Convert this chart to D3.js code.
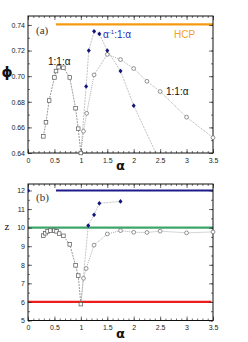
<!DOCTYPE html>
<html><head><meta charset="utf-8">
<script src="https://cdn.jsdelivr.net/npm/d3@7"></script>
<style>
body{margin:0;background:#fff;}
svg{display:block;}
.tick text{font-family:"Liberation Sans",Arial,sans-serif;font-size:7px;fill:#222;}
</style></head>
<body>
<svg id="c" width="248" height="342"></svg>
<script>
// ---- data ----
const xTicks = [0, 0.5, 1, 1.5, 2, 2.5, 3, 3.5];
const phiTicks = [0.64, 0.66, 0.68, 0.70, 0.72, 0.74];
const zTicks = [5, 6, 7, 8, 9, 10, 11, 12];

// panel (a): packing fraction phi
const aSqX = [0.29, 0.34, 0.40, 0.50, 0.53, 0.58, 0.67, 0.79, 0.90, 0.95, 1.00];
const aSqY = [0.653, 0.664, 0.681, 0.699, 0.704, 0.707, 0.7066, 0.699, 0.675, 0.659, 0.640];
const aCiX = [1.00, 1.05, 1.11, 1.25, 1.50, 1.75, 2.00, 2.25, 2.50, 3.00, 3.50];
const aCiY = [0.640, 0.657, 0.671, 0.701, 0.717, 0.713, 0.706, 0.696, 0.688, 0.668, 0.652];
const aDiX = [1.00, 1.10, 1.15, 1.25, 1.35, 1.50, 1.75, 2.00, 2.50];
const aDiY = [0.640, 0.692, 0.720, 0.735, 0.733, 0.720, 0.704, 0.677, 0.633];
const hcpPhi = 0.7405;
const hcpRange = [0.53, 3.5];

// panel (b): coordination number z
const bSqX = [0.29, 0.33, 0.37, 0.42, 0.50, 0.54, 0.59, 0.67, 0.79, 0.90, 0.95, 1.00];
const bSqY = [9.57, 9.70, 9.80, 9.84, 9.84, 9.80, 9.68, 9.56, 9.10, 7.97, 7.42, 5.88];
const bCiX = [1.00, 1.05, 1.10, 1.25, 1.50, 1.75, 2.00, 2.25, 2.50, 3.00, 3.50];
const bCiY = [5.88, 7.27, 7.80, 9.06, 9.66, 9.84, 9.75, 9.74, 9.81, 9.72, 9.77];
const bDiX = [1.00, 1.14, 1.25, 1.35, 1.75];
const bDiY = [5.88, 10.11, 10.69, 11.31, 11.41];
const bDiExtraX = [0];
const bDiExtraY = [12];
const refZ = [12, 10, 6];
const refRange = [[0.53, 3.5], [0, 3.5], [0, 3.47]];
const refColor = ["#1e1a8c", "#3da56a", "#ee1c1c"];

// ---- drawing ----
const svg = d3.select("#c");
const L = 28, R = 213;
const x = d3.scaleLinear().domain([0, 3.5]).range([L, R]);

function frame(g, y, top, bottom, yMajor, yMinorStep, yFmt, yDom) {
  const xMinor = d3.range(0, 3.5001, 0.1).map(v => +v.toFixed(2));
  const yMinor = d3.range(yDom[0], yDom[1] + 1e-9, yMinorStep).map(v => +v.toFixed(4));
  g.append("g").attr("transform", `translate(0,${bottom})`)
    .call(d3.axisBottom(x).tickValues(xMinor).tickSize(-2).tickFormat(""));
  g.append("g").attr("transform", `translate(0,${top})`)
    .call(d3.axisTop(x).tickValues(xMinor).tickSize(-2).tickFormat(""));
  g.append("g").attr("transform", `translate(${L},0)`)
    .call(d3.axisLeft(y).tickValues(yMinor).tickSize(-2).tickFormat(""));
  g.append("g").attr("transform", `translate(${R},0)`)
    .call(d3.axisRight(y).tickValues(yMinor).tickSize(-2).tickFormat(""));
  g.append("g").attr("transform", `translate(0,${bottom})`)
    .call(d3.axisBottom(x).tickValues(xTicks).tickSize(-4).tickPadding(5).tickFormat(d => String(d)));
  g.append("g").attr("transform", `translate(0,${top})`)
    .call(d3.axisTop(x).tickValues(xTicks).tickSize(-4).tickFormat(""));
  g.append("g").attr("transform", `translate(${L},0)`)
    .call(d3.axisLeft(y).tickValues(yMajor).tickSize(-4).tickPadding(3).tickFormat(yFmt));
  g.append("g").attr("transform", `translate(${R},0)`)
    .call(d3.axisRight(y).tickValues(yMajor).tickSize(-4).tickFormat(""));
  g.selectAll(".domain").remove();
  g.selectAll(".tick line").attr("stroke", "#333").attr("stroke-width", 0.7);
  g.append("rect").attr("x", L).attr("y", top).attr("width", R - L).attr("height", bottom - top)
    .attr("fill", "none").attr("stroke", "#111").attr("stroke-width", 1);
}

function series(g, xs, ys, y, clip, lineStyle) {
  const pts = xs.map((v, i) => [x(v), y(ys[i])]);
  g.append("path").attr("d", d3.line()(pts)).attr("clip-path", `url(#${clip})`)
    .attr("fill", "none").attr("stroke", lineStyle.color).attr("stroke-width", 0.6)
    .attr("stroke-dasharray", lineStyle.dash);
  return pts;
}
function squares(g, pts) {
  g.selectAll(null).data(pts).enter().append("rect")
    .attr("x", d => d[0] - 1.8).attr("y", d => d[1] - 1.8).attr("width", 3.6).attr("height", 3.6)
    .attr("fill", "#fff").attr("stroke", "#555").attr("stroke-width", 0.7);
}
function circles(g, pts) {
  g.selectAll(null).data(pts).enter().append("circle")
    .attr("cx", d => d[0]).attr("cy", d => d[1]).attr("r", 1.9)
    .attr("fill", "#fff").attr("stroke", "#666").attr("stroke-width", 0.7);
}
function diamonds(g, pts, clip) {
  g.selectAll(null).data(pts).enter().append("path")
    .attr("d", d => `M${d[0]},${d[1] - 2.4}L${d[0] + 2},${d[1]}L${d[0]},${d[1] + 2.4}L${d[0] - 2},${d[1]}Z`)
    .attr("fill", "#141478").attr("clip-path", clip ? `url(#${clip})` : null);
}
function clipRect(id, top, bottom) {
  svg.append("clipPath").attr("id", id).append("rect")
    .attr("x", L).attr("y", top).attr("width", R - L).attr("height", bottom - top);
}

// ===== Panel (a) =====
const aTop = 16, aBot = 153;
const ya = d3.scaleLinear().domain([0.64, 0.747]).range([aBot, aTop]);
clipRect("ca", aTop, aBot);
const ga = svg.append("g");
ga.append("line").attr("x1", x(hcpRange[0])).attr("x2", x(hcpRange[1]))
  .attr("y1", ya(hcpPhi)).attr("y2", ya(hcpPhi)).attr("stroke", "#f59a10").attr("stroke-width", 2.2);
const aSq = series(ga, aSqX, aSqY, ya, "ca", {color: "#555", dash: "2,1"});
const aCi = series(ga, aCiX, aCiY, ya, "ca", {color: "#777", dash: "1,1"});
const aDi = series(ga, aDiX, aDiY, ya, "ca", {color: "#999", dash: "2,1"});
frame(ga, ya, aTop, aBot, phiTicks, 0.01, d3.format(".2f"), [0.64, 0.74]);
squares(ga, aSq);
circles(ga, aCi.slice(1));
diamonds(ga, aDi.slice(1, aDi.length - 1));

ga.append("text").attr("x", 36).attr("y", 34).text("(a)")
  .attr("font-family", "Liberation Serif,serif").attr("font-size", 11).attr("fill", "#333");
ga.append("text").attr("x", 48).attr("y", 65).text("1:1:α")
  .attr("font-family", "Liberation Sans,Arial,sans-serif").attr("font-size", 10).attr("fill", "#111");
ga.append("text").attr("x", 166).attr("y", 95).text("1:1:α")
  .attr("font-family", "Liberation Sans,Arial,sans-serif").attr("font-size", 10).attr("fill", "#111");
const t2 = ga.append("text").attr("x", 103).attr("y", 38)
  .attr("font-family", "Liberation Sans,Arial,sans-serif").attr("font-size", 10).attr("fill", "#2a2ab0");
t2.append("tspan").text("α");
t2.append("tspan").text("-1").attr("font-size", 6).attr("dy", -4);
t2.append("tspan").text(":1:α").attr("dy", 4);
ga.append("text").attr("x", 174).attr("y", 38).text("HCP")
  .attr("font-family", "Liberation Sans,Arial,sans-serif").attr("font-size", 10).attr("fill", "#f5a020");
ga.append("text").attr("x", 7).attr("y", 77).attr("text-anchor", "middle").text("ϕ")
  .attr("font-family", "DejaVu Sans,sans-serif").attr("font-size", 14).attr("font-weight", "bold").attr("fill", "#111");
ga.append("text").attr("x", x(1.75)).attr("y", 170).attr("text-anchor", "middle").text("α")
  .attr("font-family", "DejaVu Sans,sans-serif").attr("font-size", 13).attr("font-weight", "bold").attr("fill", "#111");

// ===== Panel (b) =====
const bTop = 184, bBot = 320.5;
const yb = d3.scaleLinear().domain([5, 12.35]).range([bBot, bTop]);
clipRect("cb", bTop, bBot);
const gb = svg.append("g");
refZ.forEach((z, i) => {
  gb.append("line").attr("x1", x(refRange[i][0])).attr("x2", x(refRange[i][1]))
    .attr("y1", yb(z)).attr("y2", yb(z)).attr("stroke", refColor[i]).attr("stroke-width", 2.2);
});
const bSq = series(gb, bSqX, bSqY, yb, "cb", {color: "#555", dash: "2,1"});
const bCi = series(gb, bCiX, bCiY, yb, "cb", {color: "#777", dash: "1,1"});
const bDi = series(gb, bDiX, bDiY, yb, "cb", {color: "#999", dash: "2,1"});
frame(gb, yb, bTop, bBot, zTicks, 0.5, d3.format("d"), [5, 12]);
squares(gb, bSq);
circles(gb, bCi.slice(1));
diamonds(gb, bDi.slice(1));
diamonds(gb, bDiExtraX.map((v, i) => [x(v), yb(bDiExtraY[i])]), "cb");

gb.append("text").attr("x", 36).attr("y", 201).text("(b)")
  .attr("font-family", "Liberation Serif,serif").attr("font-size", 11).attr("fill", "#333");
gb.append("text").attr("x", 7).attr("y", 230).attr("text-anchor", "middle").text("z")
  .attr("font-family", "Liberation Serif,serif").attr("font-size", 11).attr("fill", "#111");
gb.append("text").attr("x", x(1.75)).attr("y", 338).attr("text-anchor", "middle").text("α")
  .attr("font-family", "DejaVu Sans,sans-serif").attr("font-size", 13).attr("font-weight", "bold").attr("fill", "#111");
</script>
</body></html>
